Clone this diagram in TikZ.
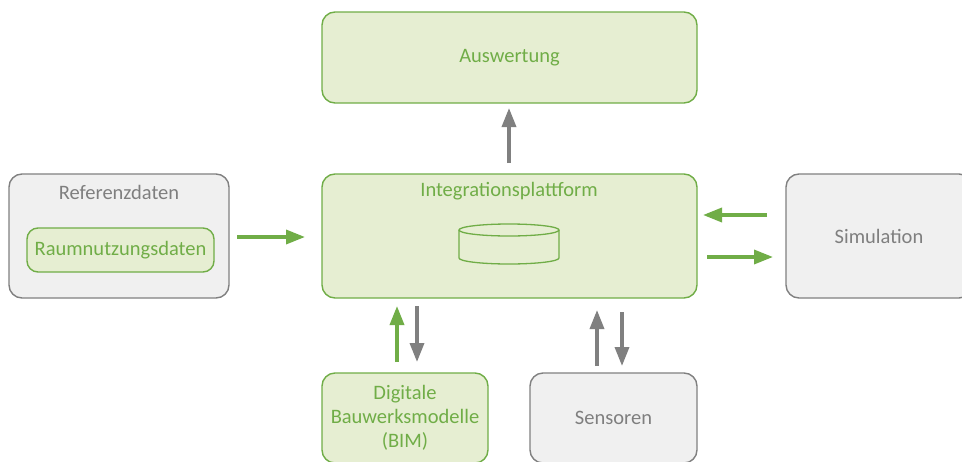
\documentclass[tikz,border=0pt]{standalone}
\usepackage{fontspec}
\setmainfont{Carlito}
\usetikzlibrary{arrows.meta}
\definecolor{gline}{HTML}{70AD47}
\definecolor{gfill}{HTML}{E6EED2}
\definecolor{grline}{HTML}{808080}
\definecolor{grfill}{HTML}{F0F0F0}
\definecolor{grtext}{HTML}{7F7F7F}
\tikzset{
  greenbox/.style={draw=gline, fill=gfill, line width=1.4pt, rounded corners=13pt, text=gline, inner sep=0pt, align=center},
  graybox/.style={draw=grline, fill=grfill, line width=1.4pt, rounded corners=13pt, text=grtext, inner sep=0pt, align=center},
  lbl/.style={inner sep=0pt},
  garrow/.style={draw=gline, line width=3.5pt, -{Triangle[width=14pt,length=19pt]}},
  grarrow/.style={draw=grline, line width=3.5pt, -{Triangle[width=14pt,length=19pt]}},
}
\begin{document}
\begin{tikzpicture}[x=1pt,y=-1pt,font=\fontsize{20.5}{24}\selectfont]
\useasboundingbox (0,0) rectangle (962,461);
\clip (0,0) rectangle (962,461);
% boxes
\node[greenbox, minimum width=375pt, minimum height=91pt] (ausw) at (509.5,57.5) {Auswertung};
\node[greenbox, minimum width=375pt, minimum height=124pt] (integ) at (509.5,236) {};
\node[lbl, text=gline] (integlbl) at (509,191) {Integrationsplattform};
\node[graybox, minimum width=220pt, minimum height=124pt] (ref) at (119,236) {};
\node[lbl, text=grtext] (reflbl) at (119,192) {Referenzdaten};
\node[greenbox, rounded corners=11pt, minimum width=187pt, minimum height=44pt] (raum) at (120.5,250) {Raumnutzungsdaten};
\node[graybox, minimum width=186pt, minimum height=124pt] (sim) at (879,236) {Simulation};
\node[greenbox, minimum width=166pt, minimum height=90pt] (bim) at (405,418) {Digitale\\Bauwerksmodelle\\(BIM)};
\node[graybox, minimum width=167pt, minimum height=90pt] (sens) at (613.5,418) {Sensoren};
% cylinder
\draw[gline, line width=1.3pt] (459,230) -- (459,258) arc[start angle=180, end angle=360, x radius=50pt, y radius=6pt] -- (559,230);
\draw[gline, line width=1.3pt] (509,230) ellipse[x radius=50pt, y radius=6pt];
% connector coordinates
\coordinate (a1s) at (509,163); \coordinate (a1e) at (509,108);
\coordinate (a2s) at (237,237); \coordinate (a2e) at (305,237);
\coordinate (a3s) at (767,215); \coordinate (a3e) at (703,215);
\coordinate (a4s) at (707,257); \coordinate (a4e) at (773,257);
\coordinate (a5s) at (397,362); \coordinate (a5e) at (397,306);
\coordinate (a6s) at (417,306); \coordinate (a6e) at (417,362);
\coordinate (a7s) at (597,366); \coordinate (a7e) at (597,310);
\coordinate (a8s) at (622,312); \coordinate (a8e) at (622,366);
\draw[grarrow] (a1s) -- (a1e);
\draw[garrow] (a2s) -- (a2e);
\draw[garrow] (a3s) -- (a3e);
\draw[garrow] (a4s) -- (a4e);
\draw[garrow] (a5s) -- (a5e);
\draw[grarrow] (a6s) -- (a6e);
\draw[grarrow] (a7s) -- (a7e);
\draw[grarrow] (a8s) -- (a8e);
\end{tikzpicture}
\end{document}
